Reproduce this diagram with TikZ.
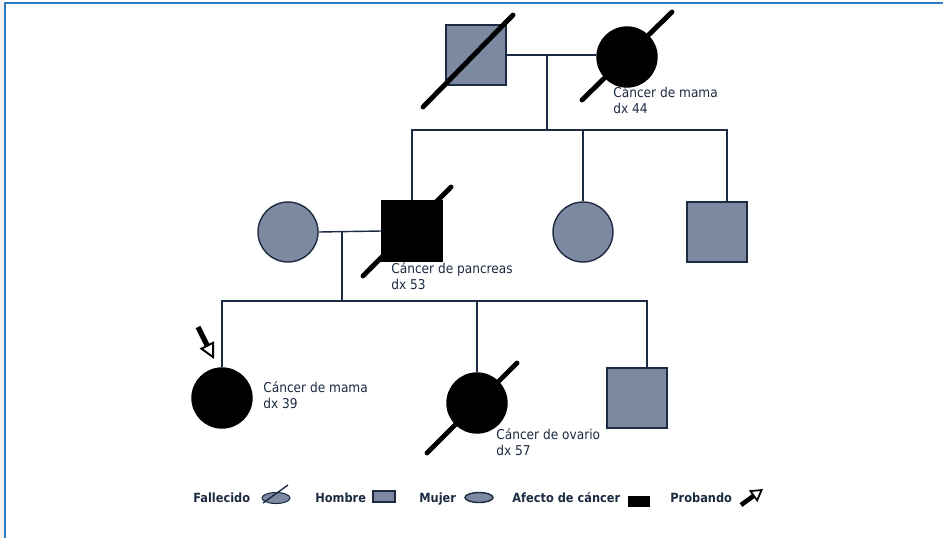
\documentclass[tikz,border=0pt]{standalone}
\usepackage{fontspec}
\setmainfont{DejaVu Sans Condensed}
\usetikzlibrary{calc,arrows.meta,shapes.geometric}
\definecolor{navy}{RGB}{28,42,66}
\definecolor{slate}{RGB}{125,137,160}
\definecolor{frameblue}{RGB}{45,125,195}
\tikzset{
  male/.style={draw=navy, fill=slate, line width=0.8pt, minimum size=1.2cm, inner sep=0pt},
  female/.style={male, circle},
  affected/.style={fill=black, draw=black},
  dead/.style={line width=2.8pt, line cap=round, black},
  conn/.style={navy, line width=0.8pt},
  lbl/.style={font=\fontsize{7.7}{9}\selectfont, text=navy, align=left, inner sep=0pt, anchor=base west},
  legtxt/.style={font=\fontsize{7.2}{8}\selectfont\bfseries, text=navy, inner sep=0pt, anchor=base west},
  probarrow/.style={black, line width=3pt, -{Triangle[open, line width=1.1pt, length=9pt, width=9pt]}}
}
\begin{document}
\begin{tikzpicture}[x=0.02cm, y=-0.02cm]
    \useasboundingbox (0,0) rectangle (943,538);
    \fill[gray!8] (0,0) rectangle (4,538);
    \draw[frameblue, line width=1.2pt] (5,538) -- (5,3) -- (943,3);

    % first generation
    \node[male] (gf) at (476,55) {};
    \node[female, affected] (gm) at (627,57) {};
    \draw[conn] (gf.east) -- (gm.west |- gf.east);
    \coordinate (m1) at (547,55);
    \coordinate (s1) at (547,130);
    \draw[conn] (m1) -- (s1);

    % second generation
    \node[female] (mother) at (288,232) {};
    \node[male, affected] (father) at (412,231) {};
    \node[female] (aunt) at (583,232) {};
    \node[male] (uncle) at (717,232) {};
    \draw[conn] (father.north) -- (father.north |- s1) -- ($(uncle.north |- s1)+(10,0)$) -- ($(uncle.north)+(10,0)$);
    \draw[conn] (aunt.north) -- (aunt.north |- s1);
    \draw[conn] (mother.east) -- (father.west);
    \coordinate (m2) at (342,231);
    \coordinate (s2) at (342,301);
    \draw[conn] (m2) -- (s2);

    % third generation
    \node[female, affected] (proband) at (222,398) {};
    \node[female, affected] (sister) at (477,403) {};
    \node[male] (brother) at (637,398) {};
    \draw[conn] (proband.north) -- (proband.north |- s2) -- ($(brother.north |- s2)+(10,0)$) -- ($(brother.north)+(10,0)$);
    \draw[conn] (sister.north) -- (sister.north |- s2);

    % deceased
    \draw[dead] ($(gf.center)+(-53,52)$) -- ($(gf.center)+(37,-40)$);
    \draw[dead] ($(gm.center)+(-45,43)$) -- ($(gm.center)+(45,-45)$);
    \draw[dead] ($(father.center)+(-49,45)$) -- ($(father.center)+(39,-44)$);
    \draw[dead] ($(sister.center)+(-50,50)$) -- ($(sister.center)+(40,-40)$);

    \coordinate (pa) at (198,327);
    \coordinate (pb) at (214,359);
    \draw[probarrow] (pa) -- (pb);

    \node[lbl] (gmtxt) at (613,113) {Cáncer de mama\\dx 44};
    \node[lbl] (fatxt) at (391,289) {Cáncer de pancreas\\dx 53};
    \node[lbl] (prtxt) at (263,408) {Cáncer de mama\\dx 39};
    \node[lbl] (sitxt) at (496,455) {Cáncer de ovario\\dx 57};

    % legend
    \node[legtxt] (lfall) at (193,502) {Fallecido};
    \node[draw=navy, fill=slate, ellipse, line width=0.6pt, minimum width=0.56cm, minimum height=0.22cm, inner sep=0pt] (efall) at (276,498) {};
    \draw[navy, line width=0.8pt] (263,503) -- (288,485);
    \node[legtxt] (lhom) at (315,502) {Hombre};
    \node[draw=navy, fill=slate, line width=0.8pt, minimum width=0.44cm, minimum height=0.22cm, inner sep=0pt] (rhom) at (384,496.5) {};
    \node[legtxt] (lmuj) at (419,502) {Mujer};
    \node[draw=navy, fill=slate, ellipse, line width=0.8pt, minimum width=0.56cm, minimum height=0.2cm, inner sep=0pt] (emuj) at (479,497.5) {};
    \node[legtxt] (lafe) at (512,502) {Afecto de cáncer};
    \node[fill=black, minimum width=0.44cm, minimum height=0.22cm, inner sep=0pt] (rafe) at (639,501.5) {};
    \node[legtxt] (lpro) at (670,502) {Probando};
    \coordinate (la) at (741,505);
    \coordinate (lb) at (763,489);
    \draw[black, line width=2.6pt, -{Triangle[open, line width=1pt, length=7pt, width=8pt]}] (la) -- (lb);
  \end{tikzpicture}
\end{document}
